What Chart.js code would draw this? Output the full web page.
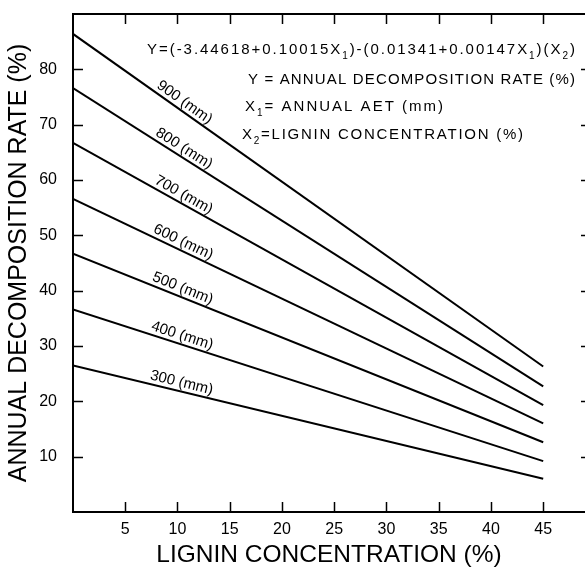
<!DOCTYPE html>
<html>
<head>
<meta charset="utf-8">
<script src="https://cdn.jsdelivr.net/npm/chart.js@4.4.0/dist/chart.umd.min.js"></script>
<style>
  html, body { margin: 0; padding: 0; background: #fff; }
  #wrap { width: 585px; height: 571px; }
</style>
</head>
<body>
<div id="wrap"><canvas id="decompChart"></canvas></div>
<script>
// lignin concentration (%) at both ends of every line
const lignin = [0, 45];
// annual decomposition rate (%), one array per annual AET
const aet900 = [86.4, 26.3];
const aet800 = [76.6, 22.7];
const aet700 = [66.7, 19.3];
const aet600 = [56.6, 16.0];
const aet500 = [46.7, 12.6];
const aet400 = [36.6, 9.2];
const aet300 = [26.5, 6.0];
const aetSeries = [aet900, aet800, aet700, aet600, aet500, aet400, aet300];
const aetLabels = ['900 (mm)', '800 (mm)', '700 (mm)', '600 (mm)', '500 (mm)', '400 (mm)', '300 (mm)'];

const xTicks = [5, 10, 15, 20, 25, 30, 35, 40, 45];
const yTicks = [10, 20, 30, 40, 50, 60, 70, 80];

const FONT = '"Liberation Sans", Arial, sans-serif';

// text with subscripts, stretched to a given width with letter spacing
function drawRich(ctx, segs, x, y, width, size) {
  ctx.save();
  ctx.textBaseline = 'alphabetic';
  ctx.textAlign = 'left';
  ctx.letterSpacing = '0px';
  let natural = 0, count = 0;
  segs.forEach(s => {
    ctx.font = (s.sub ? Math.round(size * 0.65) : size) + 'px ' + FONT;
    natural += ctx.measureText(s.t).width;
    count += s.t.length;
  });
  const sp = (width - natural) / Math.max(count - 1, 1);
  let cx = x;
  segs.forEach(s => {
    ctx.font = (s.sub ? Math.round(size * 0.65) : size) + 'px ' + FONT;
    ctx.letterSpacing = sp + 'px';
    ctx.fillText(s.t, cx, s.sub ? y + size * 0.3 : y);
    cx += ctx.measureText(s.t).width;
  });
  ctx.restore();
}

const framePlugin = {
  id: 'frame',
  afterDraw(chart) {
    const ctx = chart.ctx;
    const area = chart.chartArea;
    const xs = chart.scales.x, ys = chart.scales.y;
    ctx.save();
    ctx.strokeStyle = '#000';
    // top border
    ctx.lineWidth = 2;
    ctx.beginPath();
    ctx.moveTo(area.left - 1, area.top);
    ctx.lineTo(area.right, area.top);
    ctx.stroke();
    // inward tick marks
    ctx.lineWidth = 1.5;
    ctx.beginPath();
    xTicks.forEach(v => {
      const px = Math.round(xs.getPixelForValue(v)) + 0.5;
      ctx.moveTo(px, area.bottom);
      ctx.lineTo(px, area.bottom - 10);
      ctx.moveTo(px, area.top);
      ctx.lineTo(px, area.top + 10);
    });
    yTicks.forEach(v => {
      const py = Math.round(ys.getPixelForValue(v)) + 0.5;
      ctx.moveTo(area.left, py);
      ctx.lineTo(area.left + 10, py);
      ctx.moveTo(area.right, py);
      ctx.lineTo(area.right - 4, py);
    });
    ctx.stroke();

    // equation block
    ctx.fillStyle = '#000';
    drawRich(ctx, [
      { t: 'Y=(-3.44618+0.10015X' }, { t: '1', sub: true },
      { t: ')-(0.01341+0.00147X' }, { t: '1', sub: true },
      { t: ')(X' }, { t: '2', sub: true }, { t: ')' }
    ], 147, 54, 428, 15);
    drawRich(ctx, [{ t: 'Y = ANNUAL DECOMPOSITION RATE (%)' }], 248, 84, 327, 15);
    drawRich(ctx, [{ t: 'X' }, { t: '1', sub: true }, { t: '= ANNUAL AET (mm)' }], 245, 111, 198, 15);
    drawRich(ctx, [{ t: 'X' }, { t: '2', sub: true }, { t: '=LIGNIN CONCENTRATION (%)' }], 242, 139, 281, 15);
    ctx.restore();
  },
  afterDatasetsDraw(chart) {
    const ctx = chart.ctx;
    const xs = chart.scales.x;
    ctx.save();
    ctx.fillStyle = '#000';
    ctx.font = '15px ' + FONT;
    ctx.textAlign = 'center';
    ctx.textBaseline = 'bottom';
    chart.data.datasets.forEach((ds, i) => {
      const pts = chart.getDatasetMeta(i).data;
      const p0 = pts[0], p1 = pts[1];
      const ang = Math.atan2(p1.y - p0.y, p1.x - p0.x);
      const px = xs.getPixelForValue(10.2);
      const py = p0.y + (p1.y - p0.y) * (px - p0.x) / (p1.x - p0.x);
      ctx.save();
      ctx.translate(px, py);
      ctx.rotate(ang);
      ctx.fillText(ds.label, 0, -1);
      ctx.restore();
    });
    ctx.restore();
  }
};

const datasets = aetSeries.map((vals, i) => ({
  label: aetLabels[i],
  data: lignin.map((x, j) => ({ x: x, y: vals[j] })),
  borderColor: '#000',
  borderWidth: 2,
  pointRadius: 0,
  fill: false,
  tension: 0
}));

new Chart(document.getElementById('decompChart'), {
  type: 'line',
  data: { datasets: datasets },
  plugins: [framePlugin],
  options: {
    responsive: true,
    maintainAspectRatio: false,
    animation: false,
    layout: { padding: { top: 14, right: 0, left: 0, bottom: 0 } },
    scales: {
      x: {
        type: 'linear',
        min: 0,
        max: 49,
        afterBuildTicks: s => { s.ticks = xTicks.map(v => ({ value: v })); },
        afterFit: s => { s.height = 59; s.paddingLeft = 0; s.paddingRight = 0; },
        grid: { display: false, drawTicks: false },
        border: { display: true, color: '#000', width: 2 },
        ticks: { color: '#000', padding: 8, maxRotation: 0, font: { family: FONT, size: 16 } },
        title: {
          display: true,
          text: 'LIGNIN CONCENTRATION (%)',
          color: '#000',
          font: { family: FONT, size: 24.5 },
          padding: { top: 0, bottom: 1 }
        }
      },
      y: {
        type: 'linear',
        min: 0,
        max: 90,
        afterBuildTicks: s => { s.ticks = yTicks.map(v => ({ value: v })); },
        afterFit: s => { s.width = 73; s.paddingTop = 0; s.paddingBottom = 0; },
        grid: { display: false, drawTicks: false },
        border: { display: true, color: '#000', width: 2 },
        ticks: { color: '#000', padding: 16, font: { family: FONT, size: 16 } },
        title: {
          display: true,
          text: 'ANNUAL DECOMPOSITION RATE (%)',
          color: '#000',
          font: { family: FONT, size: 25 },
          padding: { top: 4, bottom: 0 }
        }
      }
    },
    plugins: {
      legend: { display: false },
      tooltip: { enabled: false }
    }
  }
});
</script>
</body>
</html>
